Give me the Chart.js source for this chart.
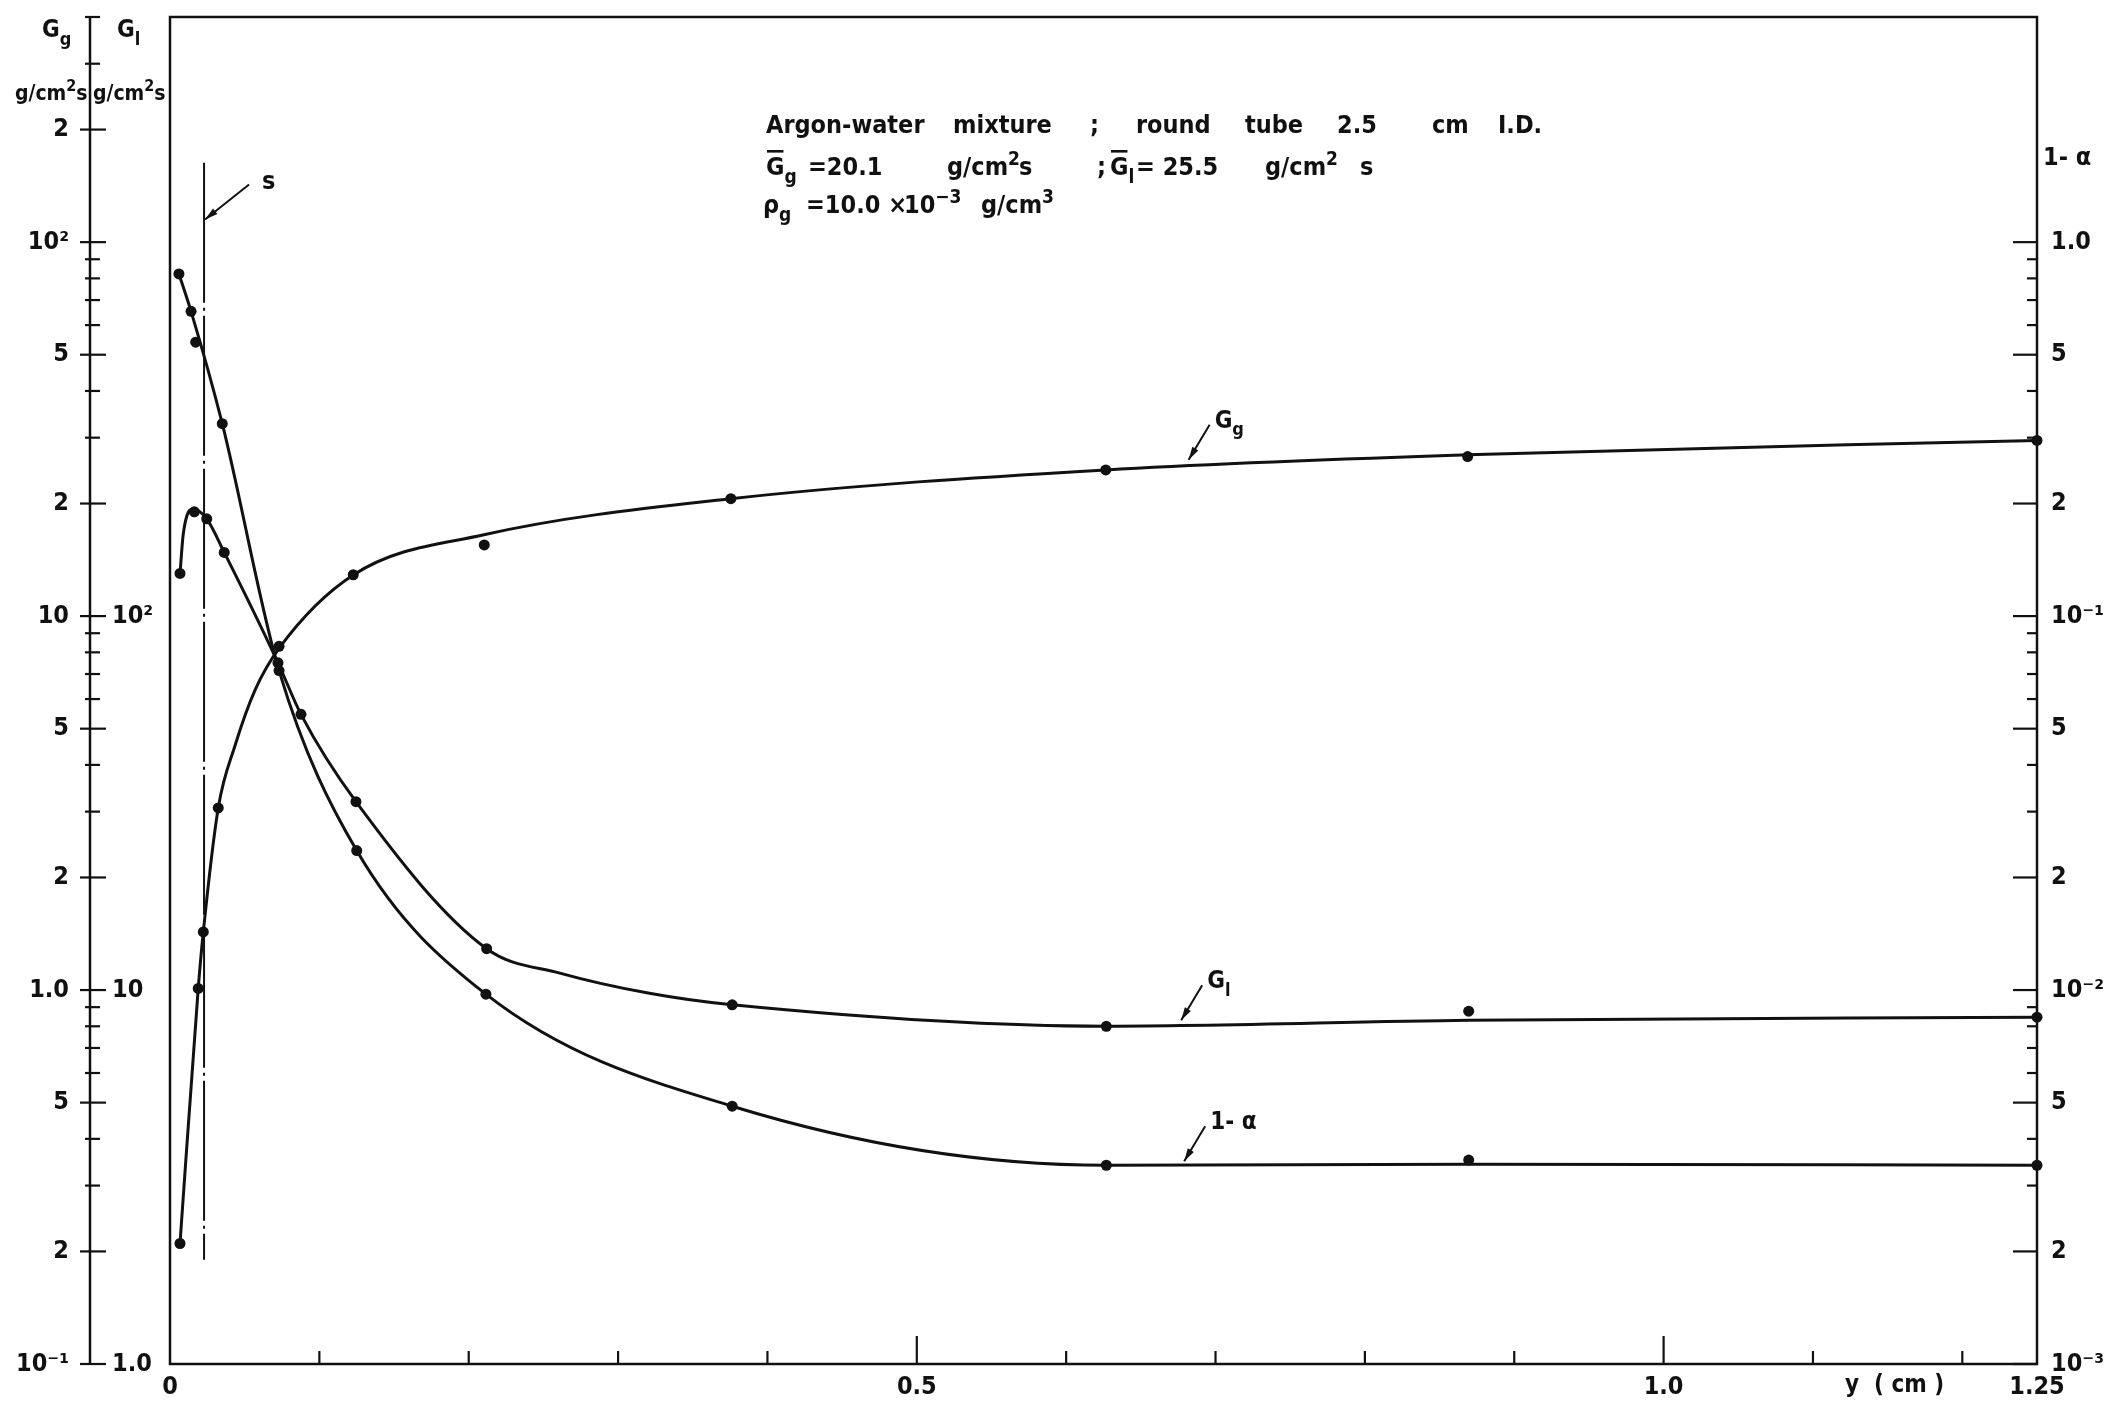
<!DOCTYPE html>
<html>
<head>
<meta charset="utf-8">
<title>Argon-water mixture: mass flux and liquid fraction profiles</title>
<script src="https://cdn.jsdelivr.net/npm/chart.js@4.4.0/dist/chart.umd.min.js"></script>
<style>
  html, body { margin: 0; padding: 0; background: #fff; }
  #wrap { width: 2108px; height: 1406px; }
</style>
</head>
<body>
<div id="wrap"><canvas id="chart" width="2108" height="1406"></canvas></div>
<script>
// measured points, y = distance from the wall (cm)
const ggPosY = [0.0067, 0.0189, 0.0223, 0.0323, 0.073, 0.1227, 0.2104, 0.3755, 0.6265, 0.8688, 1.25];
const ggPts  = [0.21, 1.01, 1.43, 3.07, 8.3, 12.9, 15.5, 20.6, 24.6, 26.7, 29.5];
const glPosY = [0.0067, 0.0163, 0.0246, 0.0363, 0.0723, 0.0877, 0.1245, 0.212, 0.3764, 0.6269, 0.8695, 1.25];
const glPts  = [130, 190, 182, 148, 75, 54.6, 31.9, 12.9, 9.13, 8.0, 8.78, 8.46];
const laPosY = [0.006, 0.0141, 0.0172, 0.035, 0.073, 0.125, 0.2115, 0.3764, 0.6269, 0.8695, 1.25];
const laPts  = [0.822, 0.653, 0.54, 0.327, 0.0715, 0.0236, 0.00975, 0.00489, 0.0034, 0.00351, 0.0034];

// faired curves through the measurements
const ggCurveY = [0.0067, 0.0189, 0.0223, 0.0323, 0.0435, 0.057, 0.073, 0.1227, 0.2102, 0.3755, 0.6265, 0.8688, 1.25];
const ggCurve  = [0.21, 1.01, 1.43, 3.07, 4.5, 6.35, 8.2, 12.88, 16.5, 20.6, 24.6, 27.0, 29.5];
const glCurveY = [0.0067, 0.0089, 0.0156, 0.0246, 0.0363, 0.0723, 0.0877, 0.1245, 0.212, 0.261, 0.321, 0.3764, 0.6269, 0.8695, 1.25];
const glCurve  = [130, 166, 193.5, 182, 148, 75, 54.6, 31.9, 12.9, 11.1, 9.8, 9.13, 8.0, 8.3, 8.46];
const laCurveY = [0.006, 0.0141, 0.035, 0.073, 0.125, 0.2115, 0.3764, 0.6269, 0.8695, 1.25];
const laCurve  = [0.822, 0.653, 0.327, 0.0715, 0.0236, 0.00975, 0.00489, 0.0034, 0.00342, 0.0034];

// the "s" marker line (position, G_g range it spans)
const sPosY = [0.0228, 0.0228];
const sSpan = [163, 0.19];

// tick labels
const xLabelVals = [0, 0.5, 1.0, 1.25];
const xLabelText = ['0', '0.5', '1.0', '1.25'];
const xTickVals = [0, 0.1, 0.2, 0.3, 0.4, 0.5, 0.6, 0.7, 0.8, 0.9, 1.0, 1.1, 1.2, 1.25];
const ggLabelVals = [0.1, 0.2, 0.5, 1, 2, 5, 10, 20, 50, 100, 200];
const ggLabelText = ['10⁻¹', '2', '5', '1.0', '2', '5', '10', '2', '5', '10²', '2'];
const glLabelVals = [1, 10, 100];
const glLabelText = ['1.0', '10', '10²'];
const laLabelVals = [0.001, 0.002, 0.005, 0.01, 0.02, 0.05, 0.1, 0.2, 0.5, 1];
const laLabelText = ['10⁻³', '2', '5', '10⁻²', '2', '5', '10⁻¹', '2', '5', '1.0'];
const mantissas = [1, 2, 3, 4, 5, 6, 7, 8, 9];

const FONT = "'DejaVu Sans Condensed', 'DejaVu Sans', sans-serif";
const WEIGHT = 'bold';
const INK = '#111';

function decadeTicks(lowExp, highExp, top) {
  const out = [];
  for (let e = lowExp; e <= highExp; e++) {
    mantissas.forEach(m => {
      const v = Number((m * Math.pow(10, e)).toPrecision(6));
      if (v <= top * 1.0001) out.push(v);
    });
  }
  return out;
}

function labelFor(vals, texts, v) {
  const i = vals.findIndex(u => Math.abs(u - v) <= Math.abs(u) * 1e-6 + 1e-9);
  return i < 0 ? '' : texts[i];
}

const pts = (xs, ys) => xs.map((x, i) => ({ x, y: ys[i] }));

function seg(ctx, x0, y0, x1, y1) {
  ctx.beginPath();
  ctx.moveTo(x0, y0);
  ctx.lineTo(x1, y1);
  ctx.stroke();
}

// text with sub/superscripts and overbars: runs = [[text, kind], ...]
function drawRuns(ctx, x, y, runs, size) {
  let cx = x;
  runs.forEach(([t, kind]) => {
    const small = kind === 'sub' || kind === 'sup';
    ctx.font = WEIGHT + ' ' + (small ? Math.round(size * 0.74) : size) + 'px ' + FONT;
    const dy = kind === 'sub' ? size * 0.32 : kind === 'sup' ? -size * 0.42 : 0;
    ctx.fillText(t, cx, y + dy);
    const w = ctx.measureText(t).width;
    if (kind === 'bar') ctx.fillRect(cx + 1, y - size * 1.0, w - 2, 2.6);
    cx += w;
  });
}

// leader line with a small arrowhead at the curve end
function leader(ctx, x0, y0, x1, y1) {
  ctx.lineWidth = 2;
  seg(ctx, x0, y0, x1, y1);
  const ang = Math.atan2(y1 - y0, x1 - x0);
  const len = 13, hw = 3.5;
  ctx.beginPath();
  ctx.moveTo(x0, y0);
  ctx.lineTo(x0 + Math.cos(ang) * len - Math.sin(ang) * hw, y0 + Math.sin(ang) * len + Math.cos(ang) * hw);
  ctx.lineTo(x0 + Math.cos(ang) * len + Math.sin(ang) * hw, y0 + Math.sin(ang) * len - Math.cos(ang) * hw);
  ctx.closePath();
  ctx.fill();
}

const header = [
  { y: 133, groups: [
    [766, [['Argon-water', '']]], [953, [['mixture', '']]], [1090, [[';', '']]],
    [1136, [['round', '']]], [1245, [['tube', '']]], [1337, [['2.5', '']]],
    [1432, [['cm', '']]], [1498, [['I.D.', '']]]
  ]},
  { y: 175, groups: [
    [766, [['G', 'bar'], ['g', 'sub']]], [808, [['=20.1', '']]],
    [947, [['g/cm', ''], ['2', 'sup']]], [1019, [['s', '']]], [1097, [[';', '']]],
    [1110, [['G', 'bar'], ['l', 'sub']]], [1136, [['= 25.5', '']]],
    [1265, [['g/cm', ''], ['2', 'sup']]], [1360, [['s', '']]]
  ]},
  { y: 213, groups: [
    [763, [['ρ', ''], ['g', 'sub']]], [806, [['=10.0 ×', '']]],
    [904, [['10', ''], ['−3', 'sup']]], [981, [['g/cm', ''], ['3', 'sup']]]
  ]}
];

const tags = [
  { scale: 'yGg', at: [0.682, 25.7], runs: [['G', ''], ['g', 'sub']] },
  { scale: 'yGl', at: [0.677, 8.15], runs: [['G', ''], ['l', 'sub']] },
  { scale: 'yLa', at: [0.679, 0.00342], runs: [['1- α', '']] }
];

const decor = {
  id: 'decor',
  afterDraw(chart) {
    const { ctx, chartArea: a, scales } = chart;
    const x = scales.x, gg = scales.yGg, la = scales.yLa;
    ctx.save();
    ctx.strokeStyle = INK;
    ctx.fillStyle = INK;
    ctx.textBaseline = 'alphabetic';
    ctx.textAlign = 'left';

    // plot frame
    ctx.lineWidth = 2.5;
    ctx.strokeRect(a.left, a.top, a.right - a.left, a.bottom - a.top);

    // left scale bar for G_g / G_l, ticks cross the bar
    const bx = gg.right - 22;
    seg(ctx, bx, a.top - 1, bx, a.bottom + 1);
    ctx.lineWidth = 2.2;
    gg.ticks.forEach(t => {
      const py = gg.getPixelForValue(t.value);
      const major = labelFor(ggLabelVals, ggLabelText, t.value) !== '';
      seg(ctx, bx - (major ? 10 : 5), py, bx + (major ? 16 : 10), py);
    });

    // right scale (1-α), ticks point inward
    la.ticks.forEach(t => {
      const py = la.getPixelForValue(t.value);
      const major = labelFor(laLabelVals, laLabelText, t.value) !== '';
      seg(ctx, a.right - (major ? 24 : 10), py, a.right, py);
    });

    // bottom ticks point up
    x.ticks.forEach(t => {
      if (t.value <= 0 || t.value >= 1.25) return;
      const px = x.getPixelForValue(t.value);
      const major = labelFor(xLabelVals, xLabelText, t.value) !== '';
      seg(ctx, px, a.bottom, px, a.bottom - (major ? 28 : 13));
    });

    // axis captions
    drawRuns(ctx, 42, 37, [['G', ''], ['g', 'sub']], 24);
    drawRuns(ctx, 117, 37, [['G', ''], ['l', 'sub']], 24);
    drawRuns(ctx, 15, 100, [['g/cm', ''], ['2', 'sup'], ['s', '']], 21);
    drawRuns(ctx, 93, 100, [['g/cm', ''], ['2', 'sup'], ['s', '']], 21);
    drawRuns(ctx, la.left + 6, 165, [['1- α', '']], 25);
    drawRuns(ctx, a.right - 192, 1392, [['y  ( cm )', '']], 24);

    // description block
    header.forEach(line => {
      line.groups.forEach(([gx, runs]) => drawRuns(ctx, gx, line.y, runs, 25));
    });

    // curve labels with leaders
    tags.forEach(tag => {
      const px = x.getPixelForValue(tag.at[0]);
      const py = scales[tag.scale].getPixelForValue(tag.at[1]);
      leader(ctx, px, py - 3, px + 21, py - 38);
      drawRuns(ctx, px + 26, py - 35, tag.runs, 24);
    });

    // "s" marker label
    const sx = x.getPixelForValue(sPosY[0]);
    const sy = gg.getPixelForValue(115);
    leader(ctx, sx + 1, sy, sx + 45, sy - 35);
    drawRuns(ctx, sx + 58, sy - 30, [['s', '']], 25);

    ctx.restore();
  }
};

const tickFont = { family: FONT, size: 25, weight: WEIGHT };

function curve(xs, ys, axis) {
  return {
    data: pts(xs, ys), yAxisID: axis, borderColor: INK, borderWidth: 3,
    pointRadius: 0, cubicInterpolationMode: 'monotone', fill: false, clip: false
  };
}
function marks(xs, ys, axis) {
  return {
    data: pts(xs, ys), yAxisID: axis, showLine: false, pointRadius: 5.5,
    pointBackgroundColor: INK, pointBorderWidth: 0, clip: false
  };
}
function fixSize(w, h) {
  return s => {
    if (w != null) s.width = w;
    if (h != null) s.height = h;
    s.paddingTop = 0; s.paddingBottom = 0; s.paddingLeft = 0; s.paddingRight = 0;
  };
}

new Chart(document.getElementById('chart'), {
  type: 'line',
  data: {
    datasets: [
      curve(ggCurveY, ggCurve, 'yGg'),
      curve(glCurveY, glCurve, 'yGl'),
      curve(laCurveY, laCurve, 'yLa'),
      marks(ggPosY, ggPts, 'yGg'),
      marks(glPosY, glPts, 'yGl'),
      marks(laPosY, laPts, 'yLa'),
      {
        data: pts(sPosY, sSpan), yAxisID: 'yGg', borderColor: INK, borderWidth: 2,
        borderDash: [140, 5, 3, 5], pointRadius: 0, fill: false
      }
    ]
  },
  options: {
    responsive: false,
    animation: false,
    devicePixelRatio: 1,
    events: [],
    layout: { padding: { top: 17, right: 0, bottom: 0, left: 0 } },
    plugins: { legend: { display: false }, tooltip: { enabled: false } },
    scales: {
      x: {
        type: 'linear', min: 0, max: 1.25, position: 'bottom',
        grid: { display: false }, border: { display: false },
        afterBuildTicks: s => { s.ticks = xTickVals.map(v => ({ value: v })); },
        afterFit: fixSize(null, 42),
        ticks: {
          autoSkip: false, maxRotation: 0, padding: 0, font: tickFont, color: INK,
          callback: v => labelFor(xLabelVals, xLabelText, v)
        }
      },
      yGg: {
        type: 'logarithmic', position: 'left', weight: 1, min: 0.1, max: 400,
        grid: { display: false }, border: { display: false },
        afterBuildTicks: s => { s.ticks = decadeTicks(-1, 2, 400).map(v => ({ value: v })); },
        afterFit: fixSize(112, null),
        ticks: {
          autoSkip: false, padding: 35, crossAlign: 'near', font: tickFont, color: INK,
          callback: v => labelFor(ggLabelVals, ggLabelText, v)
        }
      },
      yGl: {
        type: 'logarithmic', position: 'left', weight: 0, min: 1, max: 4000,
        grid: { display: false }, border: { display: false },
        afterBuildTicks: s => { s.ticks = glLabelVals.map(v => ({ value: v })); },
        afterFit: fixSize(58, null),
        ticks: {
          autoSkip: false, padding: 0, crossAlign: 'far', font: tickFont, color: INK,
          callback: v => labelFor(glLabelVals, glLabelText, v)
        }
      },
      yLa: {
        type: 'logarithmic', position: 'right', min: 0.001, max: 4,
        grid: { display: false }, border: { display: false },
        afterBuildTicks: s => { s.ticks = decadeTicks(-3, 0, 1).map(v => ({ value: v })); },
        afterFit: fixSize(71, null),
        ticks: {
          autoSkip: false, padding: 6, font: tickFont, color: INK,
          callback: v => labelFor(laLabelVals, laLabelText, v)
        }
      }
    }
  },
  plugins: [decor]
});
</script>
</body>
</html>
